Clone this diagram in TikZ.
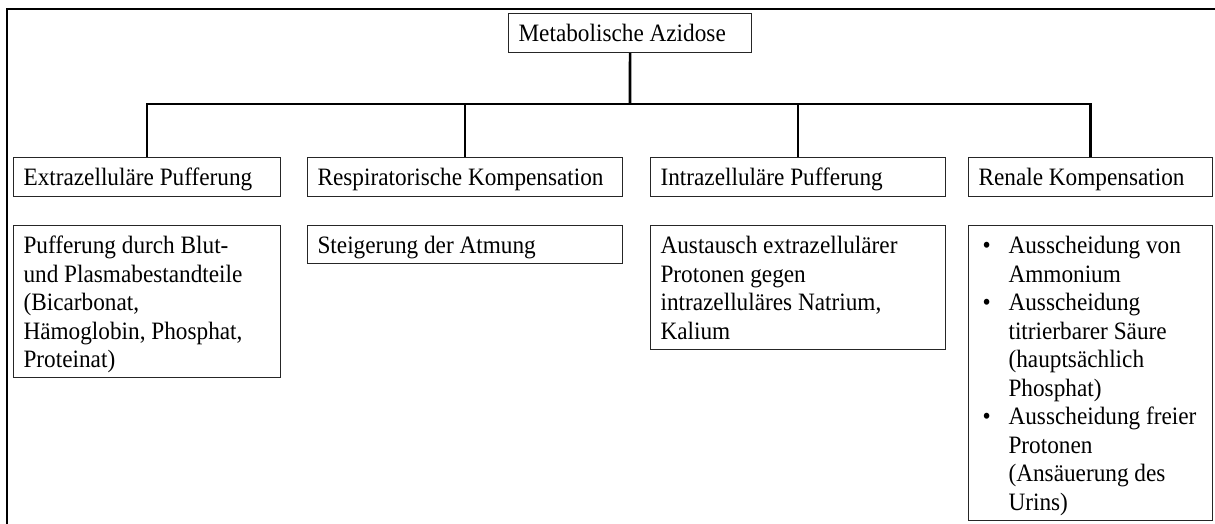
\documentclass[tikz,border=0pt]{standalone}
\usepackage{fontspec}
\setmainfont{Liberation Serif}[FakeStretch=0.93]
\newcommand{\bx}[3]{\parbox[c][#2pt][t]{#1pt}{\vspace*{8pt}\hspace*{10pt}\begin{tabular}[t]{@{}l@{}}#3\end{tabular}}}
\newcommand{\bul}{\makebox[30pt][l]{\hspace*{4pt}•}}
\newcommand{\ind}{\hspace*{30pt}}
\tikzset{
  box/.style={draw=black!85, line width=1.1pt, anchor=north west, inner sep=0pt, align=left},
  conn/.style={draw=black, line width=2.6pt},
  frame/.style={draw=black, line width=2pt}
}
\begin{document}
\begin{tikzpicture}[x=1pt,y=-1pt,font=\fontsize{25}{28.5}\selectfont]
\useasboundingbox (0,0) rectangle (1215,524);
\clip (0,0) rectangle (1215,524);
\draw[frame] (7,9) rectangle (1240,560);
\node[box] (root) at (508,13) {\bx{243}{39}{Metabolische Azidose}};
\node[box] (b1) at (13,157) {\bx{267}{39}{Extrazelluläre Pufferung}};
\node[box] (b2) at (307,157) {\bx{315}{39}{Respiratorische Kompensation}};
\node[box] (b3) at (650,157) {\bx{295}{39}{Intrazelluläre Pufferung}};
\node[box] (b4) at (968,157) {\bx{244}{39}{Renale Kompensation}};
\node[box] (c1) at (13,225) {\bx{267}{152}{Pufferung durch Blut-\\und Plasmabestandteile\\(Bicarbonat,\\Hämoglobin, Phosphat,\\Proteinat)}};
\node[box] (c2) at (307,225) {\bx{315}{38}{Steigerung der Atmung}};
\node[box] (c3) at (650,225) {\bx{295}{123.5}{Austausch extrazellulärer\\Protonen gegen\\intrazelluläres Natrium,\\Kalium}};
\node[box] (c4) at (968,225) {\bx{244}{294.5}{\bul Ausscheidung von\\\ind Ammonium\\\bul Ausscheidung\\\ind titrierbarer Säure\\\ind (hauptsächlich\\\ind Phosphat)\\\bul Ausscheidung freier\\\ind Protonen\\\ind (Ansäuerung des\\\ind Urins)}};
\coordinate (j) at (630,104);
\draw[conn] (root.south) -- (j);
\draw[conn] (j) -| (b1.north);
\draw[conn] (j) -| (b2.north);
\draw[conn] (j) -| (b3.north);
\draw[conn] (j) -| (b4.north);
\end{tikzpicture}
\end{document}
